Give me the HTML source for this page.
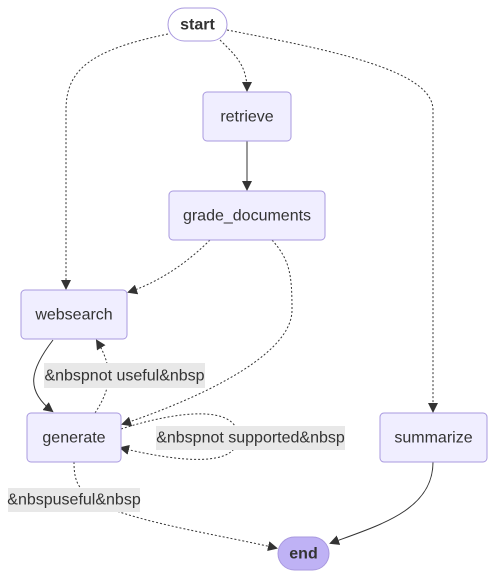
<!DOCTYPE html>
<html><head><style>
body{margin:0;background:#fff;}
svg{display:block;font-family:"Liberation Sans",sans-serif;}
.n{fill:#f0eeff;stroke:#a999df;stroke-width:1;}
.t{font-size:16px;fill:#333;text-anchor:middle;dominant-baseline:central;}
.e{fill:none;stroke:#333;stroke-width:1;}
.d{stroke-dasharray:2,2;}
.lb{fill:#e8e8e8;}
</style></head><body>
<svg width="495" height="579" viewBox="0 0 495 579">
<defs><marker id="a" markerWidth="10" markerHeight="10" refX="8" refY="5" orient="auto" markerUnits="userSpaceOnUse"><path d="M0,0 L10,5 L0,10 z" fill="#333"/></marker></defs>
<path class="e d" d="M168,34 C90,50 66,70 66,110 L66,288" marker-end="url(#a)"/>
<path class="e d" d="M220,40 C235,55 247,65 247,90" marker-end="url(#a)"/>
<path class="e d" d="M227,30 C330,50 433,70 433,110 L433,411" marker-end="url(#a)"/>
<path class="e" d="M247,141 L247,189" marker-end="url(#a)"/>
<path class="e d" d="M210,240 C180,270 150,285 129,292" marker-end="url(#a)"/>
<path class="e d" d="M272,240 C290,260 292,275 292,310 C292,360 180,405 123,424" marker-end="url(#a)"/>
<path class="e" d="M53,340 C30,370 25,390 52,411" marker-end="url(#a)"/>
<path class="e d" d="M95,413 C110,390 115,370 97,341" marker-end="url(#a)"/>
<path class="e d" d="M121,429 C180,410 238,405 238,437 C238,468 180,462 121,448" marker-end="url(#a)"/>
<path class="e d" d="M74,462 C74,485 80,490 100,505 C150,525 220,535 276,548" marker-end="url(#a)"/>
<path class="e" d="M433,462 C433,510 380,525 331,543" marker-end="url(#a)"/>
<rect class="lb" x="44" y="363" width="161" height="25"/>
<text class="t" x="124.5" y="376">&amp;nbspnot useful&amp;nbsp</text>
<rect class="lb" x="156" y="426" width="189" height="24"/>
<text class="t" x="250.5" y="438">&amp;nbspnot supported&amp;nbsp</text>
<rect class="lb" x="8" y="488" width="132" height="24"/>
<text class="t" x="74" y="500">&amp;nbspuseful&amp;nbsp</text>
<rect x="168" y="8" width="59" height="33" rx="16.5" fill="#fff" stroke="#a999df"/>
<text class="t" x="197.5" y="25" style="font-weight:bold">start</text>
<rect class="n" x="203" y="92" width="88" height="49" rx="4"/>
<text class="t" x="247" y="117">retrieve</text>
<rect class="n" x="169" y="191" width="156" height="49" rx="4"/>
<text class="t" x="247" y="216">grade_documents</text>
<rect class="n" x="21" y="290" width="106" height="49" rx="4"/>
<text class="t" x="74" y="315">websearch</text>
<rect class="n" x="27" y="413" width="94" height="49" rx="4"/>
<text class="t" x="74" y="438">generate</text>
<rect class="n" x="380" y="413" width="107" height="49" rx="4"/>
<text class="t" x="433.5" y="438">summarize</text>
<rect x="278" y="537" width="51" height="33" rx="16.5" fill="#bfb2f5" stroke="#a999df"/>
<text class="t" x="303.5" y="554" style="font-weight:bold">end</text>
</svg>
</body></html>
